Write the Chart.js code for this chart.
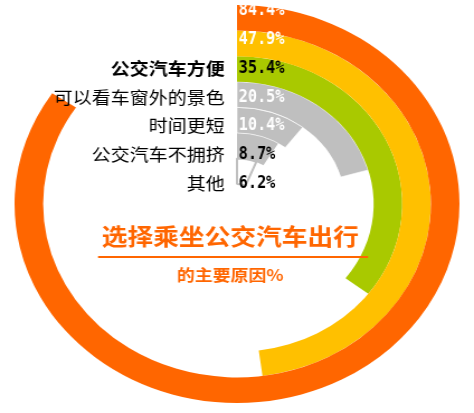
<!DOCTYPE html>
<html>
<head>
<meta charset="utf-8">
<script src="https://cdn.jsdelivr.net/npm/chart.js@4"></script>
<style>
  html, body { margin: 0; padding: 0; background: #ffffff; }
  #wrap { position: absolute; left: 0; top: 0; width: 424px; height: 413px;
          transform: scaleX(1.1179); transform-origin: 0 0; }
</style>
</head>
<body>
<div id="wrap"><canvas id="c"></canvas></div>
<script>
// ---- data ----
const categories = ['', '', '公交汽车方便', '可以看车窗外的景色', '时间更短', '公交汽车不拥挤', '其他'];
const values = [84.4, 47.9, 35.4, 20.5, 10.4, 8.7, 6.2];
const titleText = '选择乘坐公交汽车出行';
const subtitleText = '的主要原因%';

// ---- styles ----
const ringColors = ['#FF6600', '#FFC000', '#A9C900', '#BFBFBF', '#BFBFBF', '#BFBFBF', '#FFFFFF'];
const ringBorders = ['#FF6600', '#FFC000', '#A9C900', 'rgba(255,255,255,0.6)', 'rgba(255,255,255,0.6)', '#BFBFBF', '#BFBFBF'];
const ringBorderWidths = [0, 0, 0, 1, 1, 0, 2];
const valueColors = ['#FFFFFF', '#FFFFFF', '#000000', '#FFFFFF', '#FFFFFF', '#000000', '#000000'];
const catWeights = ['normal', 'normal', 'bold', 'normal', 'normal', 'normal', 'normal'];
const ORANGE = '#FF6600';

const datasets = values.map((v, i) => ({
  data: [v, 100 - v],
  backgroundColor: [ringColors[i], 'rgba(0,0,0,0)'],
  borderColor: [ringBorders[i], 'rgba(0,0,0,0)'],
  borderWidth: [ringBorderWidths[i], 0],
  hoverOffset: 0
}));

const labelPlugin = {
  id: 'labels',
  afterDraw(chart) {
    const ctx = chart.ctx;
    const ca = chart.chartArea;
    const cx = (ca.left + ca.right) / 2;
    const top = ca.top;
    const step = 28.7;
    ctx.save();
    ctx.textBaseline = 'middle';
    values.forEach((v, i) => {
      const y = top + 6 + i * step;
      if (categories[i]) {
        ctx.fillStyle = '#000000';
        ctx.textAlign = 'right';
        ctx.font = catWeights[i] + ' 17px "Noto Sans CJK SC", sans-serif';
        ctx.fillText(categories[i], cx - 11, y);
      }
      ctx.save();
      ctx.translate(cx + 1.5, y);
      ctx.scale(0.8, 1);
      ctx.fillStyle = valueColors[i];
      ctx.textAlign = 'left';
      ctx.font = 'bold 17px "DejaVu Sans Mono", monospace';
      ctx.fillText(v.toFixed(1) + '%', 0, 0);
      ctx.restore();
    });
    const tx = cx - 6;
    ctx.fillStyle = ORANGE;
    ctx.textAlign = 'center';
    ctx.font = 'bold 23px "Noto Sans CJK SC", sans-serif';
    ctx.fillText(titleText, tx, 236.5);
    ctx.strokeStyle = ORANGE;
    ctx.lineWidth = 2;
    ctx.beginPath();
    ctx.moveTo(87.7, 257);
    ctx.lineTo(329.2, 257);
    ctx.stroke();
    ctx.font = 'bold 16px "Noto Sans CJK SC", sans-serif';
    ctx.fillText(subtitleText, tx, 275);
    ctx.restore();
  }
};

new Chart(document.getElementById('c'), {
  type: 'doughnut',
  data: { labels: ['value', 'rest'], datasets: datasets },
  options: {
    responsive: true,
    maintainAspectRatio: false,
    animation: false,
    cutout: '10%',
    layout: { padding: { left: 13, right: 13, top: 5, bottom: 10 } },
    plugins: { legend: { display: false }, tooltip: { enabled: false } }
  },
  plugins: [labelPlugin]
});
</script>
</body>
</html>
